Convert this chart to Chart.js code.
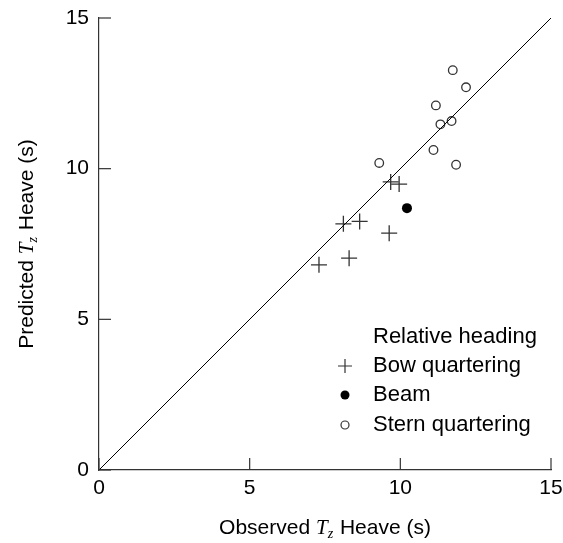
<!DOCTYPE html>
<html>
<head>
<meta charset="utf-8">
<script src="https://cdn.jsdelivr.net/npm/chart.js@4"></script>
<style>
  html, body { margin: 0; padding: 0; background: #fff; }
  #wrap { width: 563px; height: 543px; }
</style>
</head>
<body>
<div id="wrap"><canvas id="myChart"></canvas></div>
<script>
// data
const bowX = [7.30, 8.30, 8.11, 8.65, 9.63, 9.68, 9.96];
const bowY = [6.81, 7.03, 8.17, 8.25, 7.86, 9.56, 9.49];
const beamX = [10.22];
const beamY = [8.69];
const sternX = [9.30, 11.74, 12.18, 11.18, 11.33, 11.70, 11.10, 11.85];
const sternY = [10.19, 13.27, 12.70, 12.10, 11.47, 11.58, 10.62, 10.13];
const ticksXY = [0, 5, 10, 15];
const legendTitle = 'Relative heading';
const seriesNames = ['Bow quartering', 'Beam', 'Stern quartering'];

const FONT = '"Liberation Sans", Arial, sans-serif';
const MATH = '"Liberation Serif", "DejaVu Serif", serif';

function pts(xs, ys) {
  return xs.map((x, i) => ({ x: x, y: ys[i] }));
}

// inward ticks, axis titles and legend
const extras = {
  id: 'extras',
  afterDraw(chart) {
    const c = chart.ctx;
    const xs = chart.scales.x, ys = chart.scales.y;
    const a = chart.chartArea;
    c.save();
    c.strokeStyle = '#333';
    c.lineWidth = 1.2;
    ticksXY.forEach(v => {
      const px = xs.getPixelForValue(v);
      c.beginPath(); c.moveTo(px, a.bottom); c.lineTo(px, a.bottom - 12); c.stroke();
      const py = ys.getPixelForValue(v);
      c.beginPath(); c.moveTo(a.left, py); c.lineTo(a.left + 12, py); c.stroke();
    });

    // axis titles with math T_z
    function title(x, y, rot, pre, post) {
      c.save();
      c.translate(x, y);
      c.rotate(rot);
      c.fillStyle = '#000';
      c.textBaseline = 'middle';
      c.textAlign = 'left';
      const f1 = '21px ' + FONT, f2 = 'italic 21px ' + MATH, f3 = 'italic 14px ' + MATH;
      c.font = f1; const w1 = c.measureText(pre).width;
      c.font = f2; const w2 = c.measureText('T').width;
      c.font = f3; const w3 = c.measureText('z').width;
      c.font = f1; const w4 = c.measureText(post).width;
      let x0 = -(w1 + w2 + w3 + 1 + w4) / 2;
      c.font = f1; c.fillText(pre, x0, 0); x0 += w1;
      c.font = f2; c.fillText('T', x0, 0); x0 += w2;
      c.font = f3; c.fillText('z', x0, 6); x0 += w3 + 1;
      c.font = f1; c.fillText(post, x0, 0);
      c.restore();
    }
    const cx = (a.left + a.right) / 2, cy = (a.top + a.bottom) / 2;
    title(cx, 528, 0, 'Observed ', ' Heave (s)');
    title(27, cy, -Math.PI / 2, 'Predicted ', ' Heave (s)');

    // legend
    const lx = 345, tx = 373;
    const rows = [366, 395, 425];
    c.fillStyle = '#000';
    c.font = '22px ' + FONT;
    c.textAlign = 'left';
    c.textBaseline = 'middle';
    c.fillText(legendTitle, tx, 337);
    seriesNames.forEach((s, i) => c.fillText(s, tx, rows[i]));
    c.strokeStyle = '#333';
    c.lineWidth = 1.2;
    c.beginPath();
    c.moveTo(lx - 7, rows[0]); c.lineTo(lx + 7, rows[0]);
    c.moveTo(lx, rows[0] - 7); c.lineTo(lx, rows[0] + 7);
    c.stroke();
    c.fillStyle = '#000';
    c.beginPath(); c.arc(lx, rows[1], 4.5, 0, Math.PI * 2); c.fill();
    c.beginPath(); c.arc(lx, rows[2], 4, 0, Math.PI * 2); c.stroke();
    c.restore();
  }
};

const axisCommon = {
  type: 'linear',
  min: 0,
  max: 15,
  grid: { display: false, tickLength: 0, drawTicks: false },
  border: { display: true, color: '#333', width: 1.2 },
  ticks: {
    stepSize: 5,
    color: '#000',
    font: { family: FONT, size: 21 },
  },
};

const ctx = document.getElementById('myChart');
const myChart = new Chart(ctx, {
  type: 'scatter',
  data: {
    datasets: [
      {
        type: 'line',
        label: 'y = x',
        data: pts([0, 15], [0, 15]),
        borderColor: '#000',
        borderWidth: 1,
        pointRadius: 0,
        fill: false,
      },
      {
        label: seriesNames[0],
        data: pts(bowX, bowY),
        pointStyle: 'cross',
        pointRadius: 8,
        borderColor: '#333',
        borderWidth: 1.3,
      },
      {
        label: seriesNames[1],
        data: pts(beamX, beamY),
        pointStyle: 'circle',
        pointRadius: 5,
        backgroundColor: '#000',
        borderColor: '#000',
        borderWidth: 0,
      },
      {
        label: seriesNames[2],
        data: pts(sternX, sternY),
        pointStyle: 'circle',
        pointRadius: 4.3,
        backgroundColor: 'rgba(0,0,0,0)',
        borderColor: '#333',
        borderWidth: 1.3,
      },
    ]
  },
  options: {
    responsive: true,
    maintainAspectRatio: false,
    animation: false,
    layout: { padding: { left: 0, top: 18, right: 12, bottom: 0 } },
    scales: {
      x: Object.assign({}, axisCommon, {
        position: 'bottom',
        ticks: Object.assign({}, axisCommon.ticks, { padding: 6 }),
        afterFit: s => { s.height = 73; s.paddingLeft = 0; s.paddingRight = 0; },
      }),
      y: Object.assign({}, axisCommon, {
        position: 'left',
        ticks: Object.assign({}, axisCommon.ticks, { padding: 10 }),
        afterFit: s => { s.width = 99; s.paddingTop = 0; s.paddingBottom = 0; },
      }),
    },
    plugins: {
      legend: { display: false },
      tooltip: { enabled: false },
    }
  },
  plugins: [extras]
});
</script>
</body>
</html>
